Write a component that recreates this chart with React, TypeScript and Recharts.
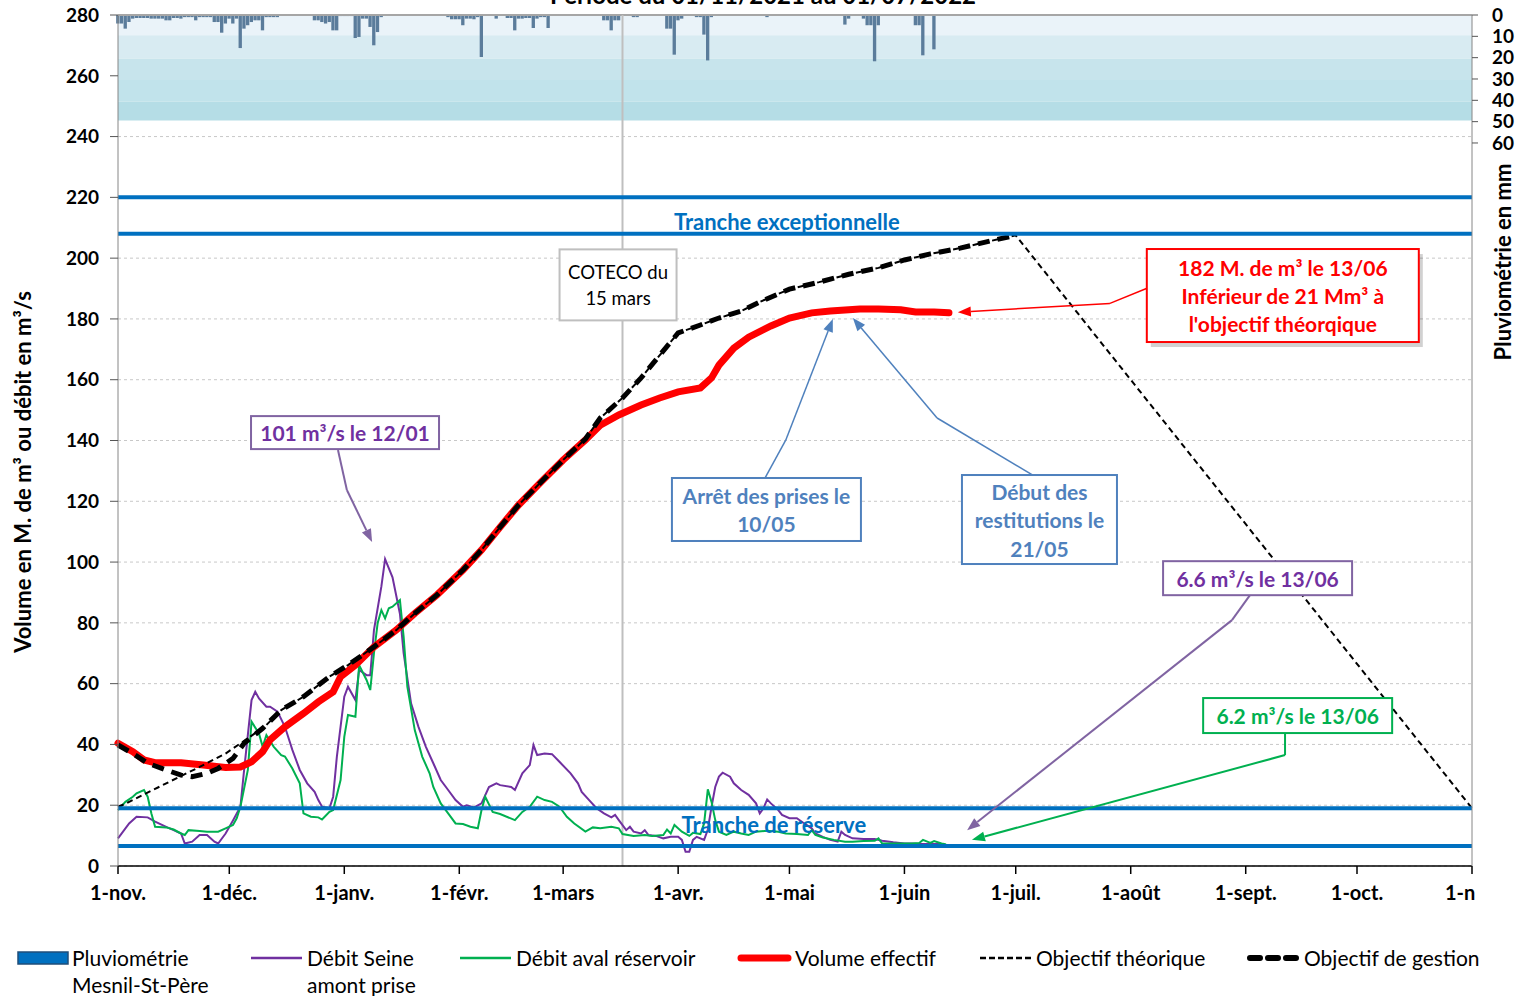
import {
  ComposedChart,
  Line,
  Bar,
  XAxis,
  YAxis,
  CartesianGrid,
  ReferenceLine,
  ReferenceArea,
  ReferenceDot,
} from 'recharts';

const FONT = 'Lato, "Open Sans", sans-serif';

// x axis = days since 1 Nov 2021
const monthTicks = [0, 30, 61, 92, 120, 151, 181, 212, 242, 273, 304, 334, 365];
const monthLabels = ['1-nov.', '1-déc.', '1-janv.', '1-févr.', '1-mars', '1-avr.', '1-mai', '1-juin', '1-juil.', '1-août', '1-sept.', '1-oct.', '1-n'];
const leftTicks = [0, 20, 40, 60, 80, 100, 120, 140, 160, 180, 200, 220, 240, 260, 280];
const rainTicks = [0, 10, 20, 30, 40, 50, 60];

// rain bands behind the rainfall bars (mm)
const rainBandFrom = [0, 9.5, 20.5, 30.5, 40.5];
const rainBandTo = [9.5, 20.5, 30.5, 40.5, 49.5];
const rainBandColors = ['#eaf3f9', '#d8ebf2', '#c7e4ec', '#c1e3eb', '#b5dde6'];

// reservoir levels (M. m3)
const trancheLevels = [220, 208, 19, 6.6];

// Pluviométrie Mesnil-St-Père (mm)
const rainDays = [0, 1, 2, 3, 4, 5, 6, 7, 8, 9, 10, 11, 12, 13, 14, 15, 16, 17, 18, 19, 20, 21, 22, 23, 24, 25, 26, 27, 28, 29, 30, 31, 32, 33, 34, 35, 36, 37, 38, 39, 40, 41, 42, 43,
  53, 54, 55, 56, 57, 58, 59, 60, 61, 62, 63, 64, 65, 66, 67, 68, 69, 70, 71,
  89, 90, 91, 92, 93, 94, 95, 96, 97, 98, 102, 105, 106, 107, 108, 109, 110, 111, 112, 113, 114, 115, 116,
  131, 132, 133, 134, 135, 139, 140, 148, 149, 150, 151, 152, 156, 157, 158, 159, 160, 175, 196, 197, 201, 202, 203, 204, 205, 215, 216, 217, 220];
const rainMm = [4, 4, 6.4, 3.3, 1.7, 1.4, 1.4, 1.4, 1.4, 1.7, 1.7, 1.7, 1.7, 2.5, 2.5, 1.4, 1.4, 1.7, 1, 1, 1, 2.5, 1, 1, 1, 1, 3.3, 3.3, 8.3, 4, 1.7, 4, 1.7, 15.5, 6.4, 4.8, 3.3, 2.5, 2.5, 7.2, 1, 1, 1, 1,
  2.5, 2.5, 3.3, 4, 3.3, 7.2, 7.2, 0.5, 0.5, 0.5, 0.5, 10.8, 10.3, 1.7, 1.7, 5.6, 14.2, 8, 1,
  1, 2, 2, 2, 4.8, 1.7, 1.7, 2, 1, 19.7, 1.7, 1.4, 1.4, 7.2, 1.7, 1.7, 1.4, 1.4, 6.1, 1.7, 1, 1, 6.1,
  2.5, 2.5, 7.2, 2.5, 2.5, 1, 1, 6.4, 6.4, 18.6, 2.5, 1.7, 1, 1, 9.2, 21.3, 1, 1, 4.5, 1.7, 1.7, 4.8, 4.8, 21.7, 4.8, 4.8, 4.8, 18.9, 16.1];

// Débit Seine amont prise (m3/s)
const seineDays = [0, 3, 5, 8, 10, 13, 15, 17, 18, 20, 22, 24, 26, 27, 29, 31, 33, 34, 36, 37,
  38, 40, 41, 43, 45, 47, 49, 51, 53, 54, 55, 57, 58, 59, 61, 62, 64, 65, 67, 68,
  69, 71, 72, 74, 76, 77, 79, 81, 83, 85, 87, 89, 91, 93, 94, 96, 98, 100, 102, 103,
  106, 107, 109, 111, 112, 113, 115, 117, 119, 122, 124, 125, 127, 129, 131, 133, 134, 135, 137, 138,
  139, 141, 142, 143, 145, 147, 149, 151, 152, 153, 154, 155, 156, 158, 159, 160, 161, 162, 163, 165,
  166, 168, 170, 172, 173, 174, 175, 176, 178, 179, 181, 183, 185, 187, 188, 190, 192, 194, 195, 196,
  198, 201, 204, 206, 209, 212, 214, 217, 220, 222, 224];
const seineFlow = [9.1, 14, 16.2, 16, 14.6, 12.9, 11.8, 10.7, 7.4, 8, 10.2, 10.2, 8, 7.4, 10.7, 15, 19.5, 31.6, 54.6, 57.3,
  55.1, 52.4, 52.4, 50.8, 45.8, 38.2, 31.6, 27.2, 24.4, 21.7, 19.5, 19, 22.8, 36, 55.7, 59, 54.6, 64.5, 62.8, 62.8,
  77.6, 92, 101, 95, 83, 70, 53.5, 45.8, 39.2, 33.8, 28.3, 25, 21.7, 19.5, 20, 19.3, 20.6, 26, 27.2, 26.6,
  26, 25, 30.5, 33.2, 39.8, 36.5, 37, 36.8, 34.3, 30.5, 27.2, 24.4, 21.7, 19, 17.3, 16, 16.8, 15.1, 11.8, 12.9,
  11.3, 10.7, 11.8, 10.2, 9.9, 9.1, 9.6, 9.6, 8.6, 4.7, 4.7, 8.6, 9.6, 8.6, 12, 19.5, 26, 29.4, 30.7, 29.4,
  27.2, 25, 23.4, 20.6, 17.3, 19, 21.9, 20.6, 18.4, 16.8, 15.7, 15.7, 14, 12.4, 10.7, 9.6, 8.6, 8, 11.3, 10.2,
  9.1, 8.9, 8.9, 8.3, 7.8, 7.4, 7.4, 7.2, 7.2, 7.2, 6.6];

// Débit aval réservoir (m3/s)
const avalDays = [0, 2, 4, 5, 7, 8, 9, 10, 13, 15, 17, 18, 19, 22, 24, 27, 29, 31, 32, 33,
  35, 36, 38, 39, 40, 42, 44, 45, 47, 49, 50, 52, 54, 55, 57, 58, 60, 61, 62, 64,
  65, 67, 68, 69, 70, 71, 72, 73, 74, 76, 77, 78, 80, 82, 84, 85, 87, 89, 91, 93,
  95, 97, 98, 99, 101, 103, 107, 109, 111, 113, 115, 117, 119, 121, 123, 126, 128, 130, 133, 135,
  136, 139, 142, 144, 147, 148, 149, 150, 152, 154, 155, 157, 158, 159, 160, 161, 162, 164, 166, 168,
  170, 172, 175, 178, 180, 183, 186, 187, 188, 190, 193, 196, 198, 201, 204, 205, 206, 208, 211, 214,
  216, 217, 219, 220, 222, 223, 224];
const avalFlow = [18.4, 21.1, 22.8, 23.9, 25, 22.8, 17.3, 12.9, 12.7, 12, 10.7, 10.2, 11.8, 11.5, 11.3, 11.3, 12.4, 13.5, 15.7, 19.5,
  31.6, 47.5, 43.6, 39.2, 43.1, 39.2, 36.5, 36, 32.1, 27.2, 17.3, 16.2, 16, 15.3, 17.8, 18.4, 28.3, 42.5, 49.7, 49.1,
  66.1, 61.2, 57.9, 70, 80, 84.2, 81.5, 84.8, 85.3, 87.5, 75.4, 59, 44.7, 36, 30.5, 26, 20.6, 17.3, 14, 13.8,
  12.9, 12.4, 18.4, 22.8, 17.8, 17.1, 15.1, 17.8, 19.5, 22.8, 21.7, 21.1, 19.5, 16.2, 14, 11.3, 12.7, 12.4, 12.9, 12.4,
  10.5, 9.9, 10.2, 9.9, 10.2, 12, 10.7, 13.5, 11.3, 9.9, 10.9, 10.5, 14, 25.2, 21.1, 15.1, 11.3, 10.2, 11.3, 10.7,
  10.2, 11.3, 11.6, 11.3, 10.7, 10.5, 10.2, 11.8, 10.2, 9.4, 8.6, 8, 8, 8.2, 8.3, 9.1, 7.4, 7.4, 7.4, 7.4,
  7.6, 8.6, 7.6, 8.2, 7.4, 7.2, 6.2];

// Volume effectif (M. m3)
const volumeDays = [0, 4, 7, 10, 17, 23, 29, 33, 36, 39, 41, 45, 50, 54, 58, 60, 64, 69, 75, 80,
  86, 93, 98, 103, 108, 114, 120, 126, 130, 135, 141, 146, 151, 157, 160, 162, 166, 170, 176, 181,
  187, 192, 200, 205, 211, 215, 220, 224];
const volume = [40.4, 37.6, 34.9, 34, 34, 33.2, 32.4, 32.6, 34.3, 37.6, 41.5, 45.8, 50.2, 54, 57.3, 62.3, 66.1, 72.1, 77.6, 83.1,
  89.2, 97.4, 104, 111.5, 118.8, 126.3, 133.6, 140.2, 145, 148.4, 151.7, 154, 156, 157.3, 160.6, 164.8, 170.4, 174, 177.7, 180.3,
  182, 182.6, 183.3, 183.3, 183, 182.3, 182.3, 182];

// Objectif de gestion (M. m3)
const gestionDays = [0, 4, 8, 13, 17, 20, 24, 27, 31, 34, 39, 44, 50, 57, 62, 69, 75, 80, 86, 93,
  98, 103, 108, 114, 120, 126, 130, 136, 141, 146, 151, 157, 162, 168, 173, 181, 189, 197, 205, 212,
  219, 227, 235, 242];
const gestion = [39.8, 37, 33.8, 31.6, 29.9, 29.4, 30.5, 32.1, 35.4, 40.4, 45.3, 51.3, 55.7, 62.3, 66.1, 72.1, 77.6, 83.1, 89.2, 97.4,
  104, 111.5, 118.8, 126.3, 133.6, 140.5, 147.4, 154, 160.6, 168, 175.4, 178, 180.3, 182.6, 185.6, 189.8, 192.1, 194.7, 196.8, 199.4,
  201.4, 203.3, 205.6, 207.5];

// Objectif théorique (M. m3)
const theoDays = [0, 2, 13, 22, 29, 35, 40, 44, 50, 57, 62, 69, 75, 80, 86, 93, 98, 103, 108, 114,
  120, 126, 130, 136, 141, 146, 151, 157, 162, 168, 173, 181, 189, 197, 205, 212, 219, 227, 235, 242, 365];
const theo = [19.5, 20.5, 27.2, 32.6, 37, 42, 46.4, 51.3, 55.7, 62.3, 66.1, 72.1, 77.6, 83.1, 89.2, 97.4, 104, 111.5, 118.8, 126.3,
  133.6, 140.5, 147.4, 154, 160.6, 168, 175.4, 178, 180.3, 182.6, 185.6, 189.8, 192.1, 194.7, 196.8, 199.4, 201.4, 203.3, 205.6, 207.5, 19];

const cotecoDay = 136;

// text boxes, placed in data coordinates (day, M. m3)
const callouts = [
  { day: 180.3, value: 212, w: 0, h: 0, lines: ['Tranche exceptionnelle'], color: '#0070c0', border: '', bold: true, size: 22, lh: 26 },
  { day: 176.8, value: 13.8, w: 0, h: 0, lines: ['Tranche de réserve'], color: '#0070c0', border: '', bold: true, size: 22, lh: 26 },
  { day: 134.8, value: 191.2, w: 117, h: 71, lines: ['COTECO du', '15 mars'], color: '#000', border: '#bfbfbf', bold: false, size: 18.5, lh: 26 },
  { day: 61.2, value: 142.6, w: 188, h: 33, lines: ['101 m³/s le 12/01'], color: '#7030a0', border: '#8064a2', bold: true, size: 21, lh: 28 },
  { day: 174.8, value: 117.3, w: 189, h: 63, lines: ['Arrêt des prises le', '10/05'], color: '#4f81bd', border: '#4f81bd', bold: true, size: 21, lh: 28 },
  { day: 248.4, value: 114, w: 155, h: 89, lines: ['Début des', 'restitutions le', '21/05'], color: '#4f81bd', border: '#4f81bd', bold: true, size: 21, lh: 28.5 },
  { day: 314, value: 187.7, w: 272, h: 93, lines: ['182 M. de m³ le 13/06', 'Inférieur de 21 Mm³ à', "l'objectif théorqique"], color: '#ff0000', border: '#ff0000', bold: true, size: 21, lh: 28, shadow: true },
  { day: 307.2, value: 94.7, w: 189, h: 34, lines: ['6.6 m³/s le 13/06'], color: '#7030a0', border: '#8064a2', bold: true, size: 21, lh: 28 },
  { day: 318, value: 49.5, w: 189, h: 35, lines: ['6.2 m³/s le 13/06'], color: '#00b050', border: '#00b050', bold: true, size: 21, lh: 28 },
];

const arrows = [
  { color: '#8064a2', width: 2, points: [[59.3, 136.9], [61.7, 123.7], [68.5, 106.6]] },
  { color: '#4f81bd', width: 1.5, points: [[174.4, 127.6], [180, 140.1], [192.7, 180]] },
  { color: '#4f81bd', width: 1.5, points: [[246.6, 128.6], [220.8, 147.4], [198.1, 180.3]] },
  { color: '#ff0000', width: 1.5, points: [[277.4, 190.1], [267.4, 185.1], [226.4, 182.2]] },
  { color: '#8064a2', width: 2, points: [[305.2, 89.2], [300.3, 80.9], [228.9, 11.8]] },
  { color: '#00b050', width: 2, points: [[314.6, 43.8], [314.6, 36.5], [230.2, 8.6]] },
];

type Row = { day: number; [k: string]: number };

function buildTable(): Row[] {
  const rows = new Map<number, Row>();
  const put = (days: number[], vals: number[], key: string) => {
    days.forEach((d, i) => {
      const row = rows.get(d) ?? { day: d };
      row[key] = vals[i];
      rows.set(d, row);
    });
  };
  put(rainDays, rainMm, 'rain');
  put(seineDays, seineFlow, 'seine');
  put(avalDays, avalFlow, 'aval');
  put(volumeDays, volume, 'volume');
  put(gestionDays, gestion, 'gestion');
  put(theoDays, theo, 'theo');
  return [...rows.values()].sort((a, b) => a.day - b.day);
}

const data = buildTable();

function MonthTick({ x, y, payload }: any) {
  const i = monthTicks.indexOf(payload.value);
  const last = i === monthTicks.length - 1;
  return (
    <text x={last ? x - 27 : x} y={y + 24} textAnchor={last ? 'start' : 'middle'}
      fontFamily={FONT} fontSize={20} fontWeight={700} fill="#000">
      {monthLabels[i]}
    </text>
  );
}

function CalloutBox({ cx, cy, c }: any) {
  const top = cy - c.h / 2;
  const textTop = cy - ((c.lines.length - 1) * c.lh) / 2;
  return (
    <g>
      {c.shadow && (
        <rect x={cx - c.w / 2 + 4} y={top + 5} width={c.w} height={c.h} fill="#000" opacity={0.18} />
      )}
      {c.border && (
        <rect x={cx - c.w / 2} y={top} width={c.w} height={c.h} fill="#fff" stroke={c.border} strokeWidth={2} />
      )}
      {c.lines.map((t: string, i: number) => (
        <text key={i} x={cx} y={textTop + i * c.lh} textAnchor="middle" dominantBaseline="central"
          fontFamily={FONT} fontSize={c.size} fontWeight={c.bold ? 700 : 400} fill={c.color}>
          {t}
        </text>
      ))}
    </g>
  );
}

function ArrowSeg({ x1, y1, x2, y2, color, width, head }: any) {
  const a = Math.atan2(y2 - y1, x2 - x1);
  const L = 13;
  const s = 5;
  const bx = x2 - L * Math.cos(a);
  const by = y2 - L * Math.sin(a);
  const pts = `${x2},${y2} ${bx + s * Math.sin(a)},${by - s * Math.cos(a)} ${bx - s * Math.sin(a)},${by + s * Math.cos(a)}`;
  return (
    <g>
      <line x1={x1} y1={y1} x2={head ? bx : x2} y2={head ? by : y2} stroke={color} strokeWidth={width} />
      {head && <polygon points={pts} fill={color} />}
    </g>
  );
}

function Overlay() {
  const txt = { fontFamily: FONT, fill: '#000' } as const;
  return (
    <svg width={1525} height={996} style={{ position: 'absolute', left: 0, top: 0, pointerEvents: 'none' }}>
      <text x={763} y={4} textAnchor="middle" {...txt} fontSize={24} fontWeight={700}>
        Période du 01/11/2021 au 01/07/2022
      </text>
      <text transform="translate(31,472) rotate(-90)" textAnchor="middle" {...txt} fontSize={22} fontWeight={700}>
        Volume en M. de m³ ou débit en m³/s
      </text>
      <text transform="translate(1511,262) rotate(-90)" textAnchor="middle" {...txt} fontSize={22} fontWeight={700}>
        Pluviométrie en mm
      </text>

      <rect x={18} y={952} width={50} height={12} fill="#0070c0" stroke="#1f4e79" strokeWidth={1.5} />
      <text x={72} y={966} {...txt} fontSize={21}>Pluviométrie</text>
      <text x={72} y={993} {...txt} fontSize={21}>Mesnil-St-Père</text>

      <line x1={251} y1={958} x2={302} y2={958} stroke="#7030a0" strokeWidth={2.5} />
      <text x={307} y={966} {...txt} fontSize={21}>Débit Seine</text>
      <text x={307} y={993} {...txt} fontSize={21}>amont prise</text>

      <line x1={460} y1={958} x2={511} y2={958} stroke="#00b050" strokeWidth={2.5} />
      <text x={516} y={966} {...txt} fontSize={21}>Débit aval réservoir</text>

      <line x1={741} y1={958} x2={788} y2={958} stroke="#ff0000" strokeWidth={7} strokeLinecap="round" />
      <text x={795} y={966} {...txt} fontSize={21}>Volume effectif</text>

      <line x1={980} y1={958} x2={1032} y2={958} stroke="#000" strokeWidth={2.5} strokeDasharray="6 3" />
      <text x={1036} y={966} {...txt} fontSize={21}>Objectif théorique</text>

      <line x1={1250} y1={958} x2={1297} y2={958} stroke="#000" strokeWidth={6} strokeDasharray="10 8" strokeLinecap="round" />
      <text x={1304} y={966} {...txt} fontSize={21}>Objectif de gestion</text>
    </svg>
  );
}

export default function App() {
  return (
    <div style={{ position: 'fixed', left: 0, top: 0, width: 1525, height: 996, background: '#fff', overflow: 'hidden' }}>
      <ComposedChart width={1525} height={996} data={data} margin={{ top: 15, right: 0, bottom: 90, left: 0 }}>
        {rainBandFrom.map((f, i) => (
          <ReferenceArea key={`band${i}`} yAxisId="rain" y1={f} y2={rainBandTo[i]} fill={rainBandColors[i]} fillOpacity={1} stroke="none" ifOverflow="visible" />
        ))}
        <CartesianGrid yAxisId="left" vertical={false} stroke="#c8c8c8" strokeDasharray="3 3" />
        <XAxis dataKey="day" type="number" domain={[0, 365]} ticks={monthTicks} interval={0} height={40}
          tick={<MonthTick />} tickSize={8} axisLine={{ stroke: '#000', strokeWidth: 1.5 }} tickLine={{ stroke: '#000', strokeWidth: 1.5 }} />
        <YAxis yAxisId="left" domain={[0, 280]} ticks={leftTicks} interval={0} width={118} tickSize={8} tickMargin={11}
          axisLine={{ stroke: '#868686' }} tickLine={{ stroke: '#555' }}
          tick={{ fontFamily: FONT, fontSize: 19, fontWeight: 700, fill: '#000' }} />
        <YAxis yAxisId="rain" orientation="right" reversed domain={[0, 399]} ticks={rainTicks} interval={0} width={53} tickSize={6} tickMargin={14}
          axisLine={{ stroke: '#868686' }} tickLine={{ stroke: '#555' }}
          tick={{ fontFamily: FONT, fontSize: 19, fontWeight: 700, fill: '#000', textAnchor: 'start' }} />

        <Bar yAxisId="rain" dataKey="rain" fill="#5b7c9b" barSize={4} isAnimationActive={false} />

        <ReferenceLine yAxisId="left" y={280} stroke="#a6a6a6" strokeWidth={2} />
        <ReferenceLine yAxisId="left" x={cotecoDay} stroke="#bfbfbf" strokeWidth={2} />

        <Line yAxisId="left" dataKey="seine" stroke="#7030a0" strokeWidth={2} dot={false} connectNulls isAnimationActive={false} />
        <Line yAxisId="left" dataKey="aval" stroke="#00b050" strokeWidth={2} dot={false} connectNulls isAnimationActive={false} />
        <Line yAxisId="left" dataKey="volume" stroke="#ff0000" strokeWidth={7} strokeLinecap="round" dot={false} connectNulls isAnimationActive={false} />
        <Line yAxisId="left" dataKey="theo" stroke="#000" strokeWidth={2} strokeDasharray="6 4" dot={false} connectNulls isAnimationActive={false} />
        <Line yAxisId="left" dataKey="gestion" stroke="#000" strokeWidth={5} strokeDasharray="12 8" dot={false} connectNulls isAnimationActive={false} />

        {trancheLevels.map((v) => (
          <ReferenceLine key={`t${v}`} yAxisId="left" y={v} stroke="#0070c0" strokeWidth={4} />
        ))}

        {arrows.map((a, i) =>
          a.points.slice(1).map((pt, j) => (
            <ReferenceLine key={`a${i}-${j}`} yAxisId="left" ifOverflow="visible"
              segment={[{ x: a.points[j][0], y: a.points[j][1] }, { x: pt[0], y: pt[1] }]}
              shape={(p: any) => <ArrowSeg {...p} color={a.color} width={a.width} head={j === a.points.length - 2} />} />
          ))
        )}

        {callouts.map((c, i) => (
          <ReferenceDot key={`c${i}`} yAxisId="left" x={c.day} y={c.value} r={1} ifOverflow="visible"
            shape={(p: any) => <CalloutBox cx={p.cx} cy={p.cy} c={c} />} />
        ))}
      </ComposedChart>
      <Overlay />
    </div>
  );
}
